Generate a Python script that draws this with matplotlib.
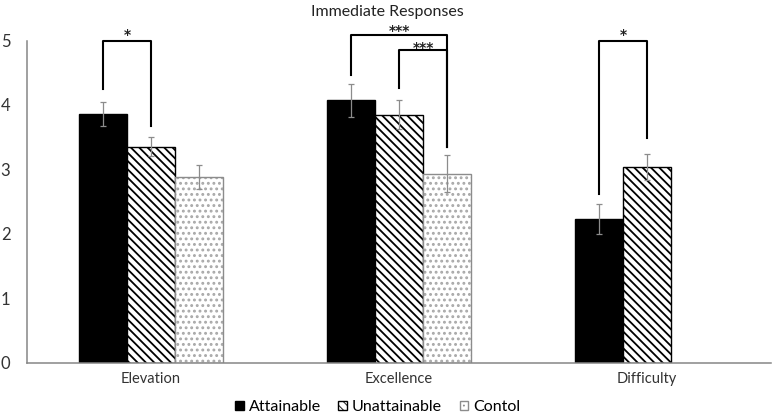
import numpy as np
import matplotlib
matplotlib.use('Agg')
import matplotlib.pyplot as plt
from matplotlib.patches import Patch

plt.rcParams['font.family'] = ['Lato', 'DejaVu Sans']
plt.rcParams['hatch.linewidth'] = 1.3

categories = ['Elevation', 'Excellence', 'Difficulty']
series = ['Attainable', 'Unattainable', 'Contol']

attainable = [3.86, 4.07, 2.23]
attainable_err = [0.19, 0.26, 0.23]
unattainable = [3.35, 3.85, 3.03]
unattainable_err = [0.15, 0.23, 0.20]
control = [2.88, 2.93, np.nan]
control_err = [0.19, 0.29, np.nan]

# significance brackets: (category, bar a, bar b, left leg bottom, right leg bottom, top, label)
brackets = [
    (0, 0, 1, 4.24, 3.68, 5.0, '*'),
    (1, 0, 2, 4.47, 3.34, 5.08, '***'),
    (1, 1, 2, 4.27, 3.34, 4.86, '***'),
    (2, 0, 1, 2.62, 3.48, 5.0, '*'),
]

fig = plt.figure(figsize=(7.74, 4.16), dpi=100)
ax = fig.add_axes([27 / 774, 53.5 / 416, 744 / 774, 322 / 416])

x = np.arange(len(categories))
w = 0.194
styles = [
    dict(color='black', edgecolor='black', hatch=None),
    dict(color='white', edgecolor='black', hatch='\\\\\\\\'),
    dict(color='white', edgecolor='#8c8c8c', hatch='...'),
]
vals = [attainable, unattainable, control]
errs = [attainable_err, unattainable_err, control_err]

for i, (v, e, st) in enumerate(zip(vals, errs, styles)):
    pos = x + (i - 1) * w
    if i == 2:
        # light dots first, then the grey outline on top
        ax.bar(pos, v, width=w, color='white', edgecolor='#a8a8a8', hatch='...',
               linewidth=0, zorder=2)
        plt.rcParams['hatch.linewidth'] = 0.6
        ax.bar(pos, v, width=w, fill=False, edgecolor=st['edgecolor'],
               linewidth=1.0, zorder=2)
    else:
        ax.bar(pos, v, width=w, color=st['color'], edgecolor=st['edgecolor'],
               hatch=st['hatch'], linewidth=1.0, zorder=2)
    ax.errorbar(pos, v, yerr=e, fmt='none', ecolor='#8c8c8c', elinewidth=0.9,
                capsize=2.5, capthick=0.9, zorder=3)

for k, (cat, a, b, yl, yr, top, lab) in enumerate(brackets):
    xa = x[cat] + (a - 1) * w
    xb = x[cat] + (b - 1) * w
    ax.plot([xa, xa, xb, xb], [yl, top, top, yr], color='black', lw=1.5,
            clip_on=False, zorder=4)
    # inner bracket has less room below the outer one
    off = -0.04 if k == 2 else (0.0 if k == 1 else 0.02)
    ax.text((xa + xb) / 2, top + off, lab, ha='center', va='baseline',
            fontsize=10, fontweight='bold', family='DejaVu Sans', color='#222222')

ax.set_xlim(-0.5, 2.5)
ax.set_ylim(0, 5)
ax.set_yticks(range(6))
ax.set_xticks(x)
ax.set_xticklabels(categories)
ax.tick_params(axis='both', length=0, labelsize=10.5, colors='#333333')
ax.tick_params(axis='y', pad=12, labelsize=12)
ax.tick_params(axis='x', pad=7)
for s in ['top', 'right']:
    ax.spines[s].set_visible(False)
for s in ['left', 'bottom']:
    ax.spines[s].set_color('#868686')
    ax.spines[s].set_linewidth(1.1)

fig.text(0.5, 0.97, 'Immediate Responses', ha='center', va='center', fontsize=11.5,
         color='#222222')

handles = [Patch(facecolor=st['color'], edgecolor=st['edgecolor'], hatch=st['hatch'])
           for st in styles]
fig.legend(handles, series, loc='lower center', ncol=3, frameon=False,
           bbox_to_anchor=(0.488, -0.03), fontsize=11.5, handlelength=0.55,
           handleheight=0.55, handletextpad=0.3, columnspacing=1.1)

fig.savefig('out.png', dpi=100)
